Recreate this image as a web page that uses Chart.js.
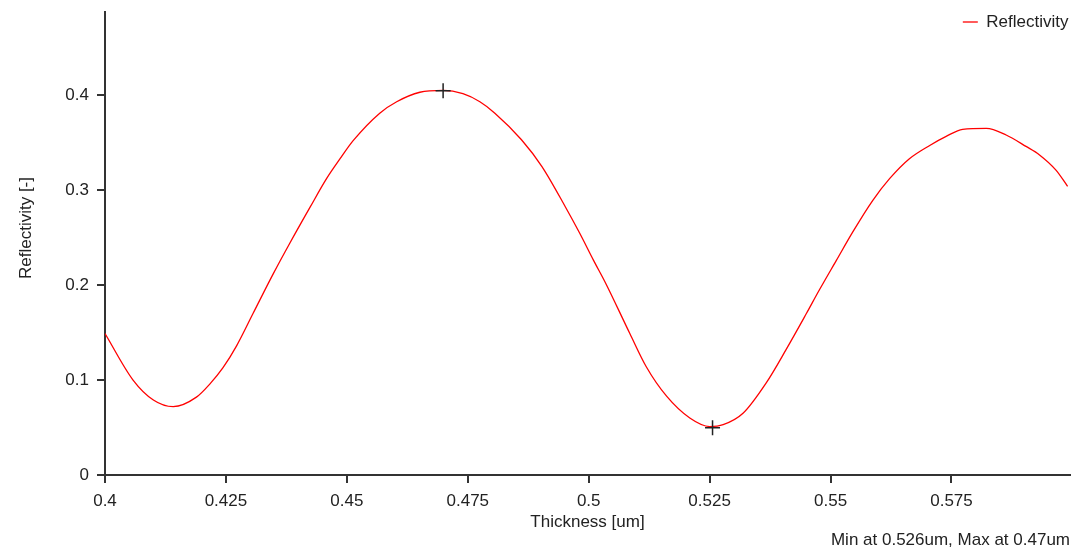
<!DOCTYPE html>
<html>
<head>
<meta charset="utf-8">
<script src="https://cdn.jsdelivr.net/npm/chart.js@4.4.1/dist/chart.umd.min.js"></script>
<style>
html,body{margin:0;padding:0;background:#ffffff;}
canvas{display:block;}
</style>
</head>
<body>
<canvas id="c" width="1072" height="552"></canvas>
<script>
// ---- data ----
const thickness = [
  0.4000, 0.4058, 0.4100, 0.4141, 0.4189, 0.4217, 0.4244, 0.4272, 0.4306, 0.4348,
  0.4382, 0.4424, 0.4458, 0.4486, 0.4513, 0.4568, 0.4603, 0.4651, 0.4699, 0.4740,
  0.4775, 0.4806, 0.4861, 0.4903, 0.4951, 0.4982, 0.5010, 0.5034, 0.5085, 0.5119,
  0.5161, 0.5209, 0.5250, 0.5278, 0.5319, 0.5367, 0.5408, 0.5450, 0.5477, 0.5512,
  0.5546, 0.5587, 0.5622, 0.5663, 0.5705, 0.5739, 0.5773, 0.5822, 0.5863, 0.5904,
  0.5932, 0.5966, 0.5990
];
const reflectivity = [
  0.149, 0.100, 0.079, 0.072, 0.082, 0.096, 0.113, 0.136, 0.170, 0.212,
  0.244, 0.282, 0.312, 0.333, 0.352, 0.381, 0.393, 0.403, 0.405, 0.4015,
  0.393, 0.381, 0.353, 0.325, 0.283, 0.254, 0.226, 0.203, 0.149, 0.114,
  0.083, 0.060, 0.051, 0.053, 0.065, 0.097, 0.132, 0.170, 0.195, 0.226,
  0.256, 0.289, 0.312, 0.333, 0.347, 0.3565, 0.364, 0.365, 0.358, 0.346,
  0.337, 0.321, 0.304
];
const extremaX = [0.4699, 0.5256];
const extremaY = [0.4046, 0.0498];
const xTicks = [0.4, 0.425, 0.45, 0.475, 0.5, 0.525, 0.55, 0.575];
const yTicks = [0, 0.1, 0.2, 0.3, 0.4];
const seriesName = 'Reflectivity';
const xTitle = 'Thickness [um]';
const yTitle = 'Reflectivity [-]';
const footText = 'Min at 0.526um, Max at 0.47um';

// ---- chart ----
const FONT_FAMILY = "'Liberation Sans', Arial, sans-serif";
const FS = 17;
const TXT = '#222222';
Chart.defaults.font.family = FONT_FAMILY;
Chart.defaults.font.size = FS;
Chart.defaults.color = TXT;

const lineData = thickness.map((x, i) => ({x: x, y: reflectivity[i]}));
const markData = extremaX.map((x, i) => ({x: x, y: extremaY[i]}));

// legend overlays the plot (takes no layout space, not clipped away)
const legendOverlay = {
  id: 'legendOverlay',
  afterInit(chart) {
    const lg = chart.legend;
    if (!lg) return;
    const origFit = lg.fit;
    lg.fit = function () { origFit.call(this); this.height = 0; };
    const origDraw = lg.draw;
    lg.draw = function (a) {
      const b = this.bottom;
      this.bottom = this.top + 30;
      origDraw.call(this, a);
      this.bottom = b;
    };
  }
};

// vertical axis title placed like the reference
const yAxisTitle = {
  id: 'yAxisTitle',
  afterDraw(chart) {
    const ctx = chart.ctx;
    ctx.save();
    ctx.translate(26, 228);
    ctx.rotate(-Math.PI / 2);
    ctx.font = FS + 'px ' + FONT_FAMILY;
    ctx.fillStyle = TXT;
    ctx.textAlign = 'center';
    ctx.textBaseline = 'middle';
    ctx.fillText(yTitle, 0, 0);
    ctx.restore();
  }
};

const axisColor = '#333333';

new Chart(document.getElementById('c'), {
  type: 'line',
  data: {
    datasets: [
      {
        label: seriesName,
        data: lineData,
        borderColor: 'rgb(255,0,0)',
        backgroundColor: 'rgb(255,0,0)',
        borderWidth: 1.3,
        pointRadius: 0,
        fill: false,
        cubicInterpolationMode: 'monotone'
      },
      {
        type: 'scatter',
        label: 'extrema',
        data: markData,
        pointStyle: 'cross',
        pointRadius: 7.5,
        borderColor: '#222222',
        backgroundColor: '#222222',
        pointBorderWidth: 1.5,
        showLine: false,
        order: -1
      }
    ]
  },
  options: {
    responsive: false,
    animation: false,
    layout: { autoPadding: false, padding: { left: 0, right: 2, top: 12, bottom: 0 } },
    plugins: {
      tooltip: { enabled: false },
      legend: {
        position: 'top',
        align: 'end',
        labels: {
          usePointStyle: true,
          pointStyle: 'line',
          pointStyleWidth: 15,
          padding: 1.5,
          color: TXT,
          font: { size: FS },
          filter: (item) => item.datasetIndex === 0
        }
      },
      title: { display: false },
      subtitle: {
        display: true,
        text: footText,
        position: 'bottom',
        align: 'end',
        color: TXT,
        font: { size: FS, weight: 'normal' },
        padding: { top: 0, bottom: 1 }
      }
    },
    scales: {
      x: {
        type: 'linear',
        min: 0.4,
        max: 0.5995,
        afterBuildTicks: (s) => { s.ticks = xTicks.map(v => ({ value: v })); },
        afterFit: (s) => { s.height = 55.6; s.paddingLeft = 0; s.paddingRight = 0; },
        ticks: {
          padding: 8,
          maxRotation: 0,
          autoSkip: false,
          color: TXT,
          callback: (v) => String(+(+v).toFixed(4))
        },
        grid: { display: true, drawOnChartArea: false, drawTicks: true, tickLength: 8, color: axisColor, lineWidth: 2 },
        border: { display: true, color: axisColor, width: 2 },
        title: { display: true, text: xTitle, color: TXT, font: { size: FS }, padding: { top: 0, bottom: -2 } }
      },
      y: {
        type: 'linear',
        min: 0,
        max: 0.4875,
        afterBuildTicks: (s) => { s.ticks = yTicks.map(v => ({ value: v })); },
        afterFit: (s) => { s.width = 105; s.paddingTop = 0; s.paddingBottom = 0; },
        ticks: {
          padding: 8,
          autoSkip: false,
          color: TXT,
          callback: (v) => String(+(+v).toFixed(4))
        },
        grid: { display: true, drawOnChartArea: false, drawTicks: true, tickLength: 8, color: axisColor, lineWidth: 2 },
        border: { display: true, color: axisColor, width: 2 },
        title: { display: false }
      }
    }
  },
  plugins: [legendOverlay, yAxisTitle]
});
</script>
</body>
</html>
